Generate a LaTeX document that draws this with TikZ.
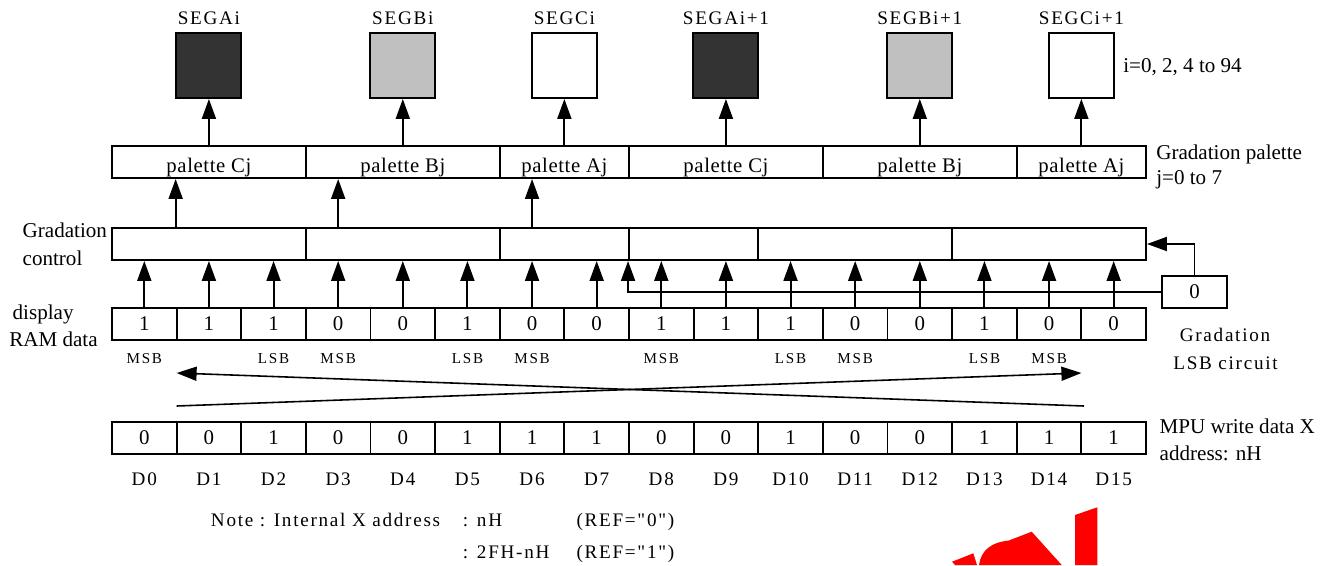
\documentclass[tikz,border=0pt]{standalone}
\usepackage{fontspec}
\setmainfont{Liberation Serif}
\newfontfamily\spacedfont[LetterSpace=9]{Liberation Serif}
\newfontfamily\palfont[LetterSpace=3]{Liberation Serif}
\newfontfamily\tinyfont[LetterSpace=12]{Liberation Serif}
\usepackage{xcolor}
\usepackage{tikz}
\usetikzlibrary{positioning, arrows.meta}
\definecolor{segdark}{HTML}{333333}
\definecolor{seglight}{HTML}{C0C0C0}

\begin{document}
\begin{tikzpicture}[x=0.02cm, y=-0.02cm, line width=1.1pt,
    cell/.style={draw, minimum width=1.2925cm, minimum height=0.64cm, inner sep=0pt, font=\fontsize{11.9}{13}\selectfont},
    segbox/.style={draw, minimum width=1.3cm, minimum height=1.3cm, inner sep=0pt},
    lbl/.style={inner sep=0pt, anchor=base west, font=\fontsize{12}{14}\selectfont},
    tag/.style={inner sep=0pt, anchor=base, font=\spacedfont\fontsize{10.9}{13}\selectfont},
    paltag/.style={inner sep=0pt, anchor=base, font=\palfont\fontsize{11.8}{13}\selectfont},
    bittag/.style={inner sep=0pt, anchor=base, font=\tinyfont\fontsize{8.6}{10}\selectfont},
    arr/.style={-{Triangle[length=0.4cm, width=0.28cm]}}]
    \useasboundingbox (0,0) rectangle (1328,565);

    % segments
    \foreach \k/\c/\f/\t in {1/1/segdark/SEGAi, 2/4/seglight/SEGBi, 3/6.5/white/SEGCi,
        4/9/segdark/SEGAi+1, 5/12/seglight/SEGBi+1, 6/14.5/white/SEGCi+1} {
        \node[segbox, fill=\f] (seg\k) at ({144.3+64.625*\c},65.5) {};
        \node[tag] (segt\k) at ({144.3+64.625*\c},24.5) {\t};
    }
    \node[lbl] (irange) at (1122.3,72.7) {i=0, 2, 4 to 94};

    % gradation palette
    \foreach \k/\a/\b/\t in {1/0/3/C, 2/3/6/B, 3/6/8/A, 4/8/11/C, 5/11/14/B, 6/14/16/A} {
        \node[draw, inner sep=0pt, minimum height=0.64cm, minimum width={(\b-\a)*1.2925cm}]
            (pal\k) at ({112+64.625*(\a+\b)/2},162) {};
        \node[paltag] (palt\k) at ({112+64.625*(\a+\b)/2},172.7) {palette \t j};
    }
    \node[lbl] (palname) at (1155.3,159.3) {Gradation palette};
    \node[lbl] (jrange) at (1155.3,184) {j=0 to 7};
    \foreach \k in {1,...,6}
        \draw[arr] (seg\k.south |- pal1.north) -- (seg\k.south);

    % gradation control
    \foreach \k/\a/\b in {1/0/3, 2/3/6, 3/6/8, 4/8/10, 5/10/13, 6/13/16}
        \node[draw, inner sep=0pt, minimum height=0.64cm, minimum width={(\b-\a)*1.2925cm}]
            (ctrl\k) at ({112+64.625*(\a+\b)/2},244) {};
    \node[lbl] (ctrlname1) at (21.7,237.3) {Gradation};
    \node[lbl] (ctrlname2) at (21.7,265.3) {control};

    % display RAM data
    \foreach \v [count=\i from 0] in {1,1,1,0,0,1,0,0,1,1,1,0,0,1,0,0}
        \node[cell] (ram\i) at ({144.3+64.625*\i},324) {\v};
    \node[lbl] (ramname1) at (11.7,319.3) {display};
    \node[lbl] (ramname2) at (8.3,346) {RAM data};
    \foreach \c/\t in {0/MSB, 2/LSB, 3/MSB, 5/LSB, 6/MSB, 8/MSB, 10/LSB, 11/MSB, 13/LSB, 14/MSB}
        \node[bittag] (bit\c) at ({144.3+64.625*\c},363.3) {\t};

    \foreach \i in {0,...,15}
        \draw[arr] (ram\i.north) -- (ram\i.north |- ctrl1.south);
    \draw[arr] (ram1.west |- ctrl1.north) -- (ram1.west |- pal1.south);
    \draw[arr] (ram3.north |- ctrl1.north) -- (ram3.north |- pal1.south);
    \draw[arr] (ram6.north |- ctrl1.north) -- (ram6.north |- pal1.south);

    % gradation LSB circuit
    \node[cell, minimum width=1.3cm] (lsb) at (1194.5,292) {0};
    \node[tag] (lsbname1) at (1225,341.7) {Gradation};
    \node[tag] (lsbname2) at (1225.5,369.3) {LSB circuit};
    \draw[arr] (lsb.west) -| (ctrl4.south west);
    \draw[arr] (lsb.north) |- (ctrl6.east);

    % crossed arrows
    \coordinate (lowL) at (176.6,406);
    \coordinate (lowR) at (1084,406);
    \coordinate (highL) at (176.6,373);
    \coordinate (highR) at (1081.4,373);
    \draw[arr, line width=0.9pt] (lowL) -- (highR);
    \draw[arr, line width=0.9pt] (lowR) -- (highL);

    % MPU write data
    \foreach \v [count=\i from 0] in {0,0,1,0,0,1,1,1,0,0,1,0,0,1,1,1} {
        \node[cell] (mpu\i) at ({144.3+64.625*\i},438) {\v};
        \node[tag] (d\i) at ({144.3+64.625*\i},485.7) {D\i};
    }
    \node[lbl] (mpuname1) at (1158.7,433.3) {MPU write data X};
    \node[lbl] (mpuname2) at (1158.7,460) {address: nH};

    % note
    \node[tag, anchor=base west] (note1) at (210,526.7) {Note : Internal X address};
    \node[tag, anchor=base west] (note2) at (462,526.7) {: nH};
    \node[tag, anchor=base west] (note3) at (575.6,526.7) {(REF="0")};
    \node[tag, anchor=base west] (note4) at (462,558.3) {: 2FH-nH};
    \node[tag, anchor=base west] (note5) at (575.6,558.3) {(REF="1")};

    % watermark
    \fill[red] (952,561.7) -- (973.3,553.3) -- (977,565) -- (955,565) -- cycle;
    \fill[red] (979,565) .. controls (981,550) and (992,542) .. (1008.3,540.7)
        -- (1031.7,531.7) -- (1061.7,565) -- cycle;
    \fill[red] (1075,515) -- (1097.3,507.3) -- (1097.3,565) -- (1075,565) -- cycle;
\end{tikzpicture}
\end{document}
